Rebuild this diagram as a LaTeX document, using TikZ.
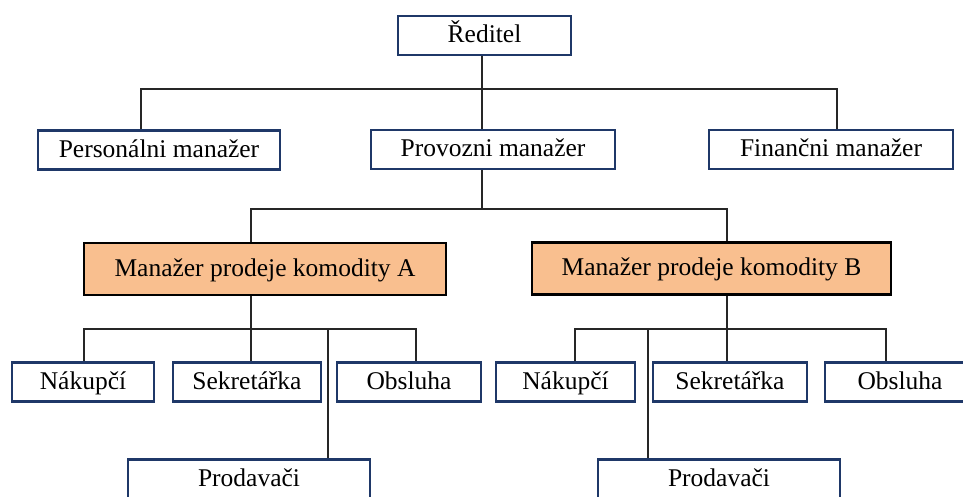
\documentclass[tikz,border=0pt]{standalone}
\usepackage{fontspec}
\setmainfont{Liberation Serif}
\definecolor{navy}{HTML}{1F3868}
\definecolor{peach}{HTML}{F9BF8F}
\begin{document}
\begin{tikzpicture}[x=1pt,y=-1pt,
  every node/.style={font=\fontsize{25.5}{30}\selectfont, inner sep=0pt,
    text height=18pt, text depth=4pt},
  plainbox/.style={draw=navy, line width=2.8pt, fill=white, minimum height=39pt},
  leadbox/.style={draw=black, line width=2.9pt, fill=peach, minimum height=52pt},
  link/.style={draw=black!85, line width=1.3pt}]
\clip (0,0) rectangle (963,496);
\fill[white] (0,0) rectangle (963,496);

% top levels
\node[plainbox, minimum width=173pt] (ceo) at (484.5,35.5) {Ředitel};
\node[plainbox, minimum width=242pt] (pers) at (159,150) {Personálni manažer};
\node[plainbox, minimum width=244pt] (prov) at (493,149.5) {Provozni manažer};
\node[plainbox, minimum width=244pt] (fin) at (831,149.5) {Finančni manažer};

% commodity managers
\node[leadbox, minimum width=362pt] (ma) at (265,269) {Manažer prodeje komodity A};
\node[leadbox, minimum width=359pt] (mb) at (711.5,268.5) {Manažer prodeje komodity B};

% staff under A
\node[plainbox, minimum width=142pt] (nakA) at (83,382) {Nákupčí};
\node[plainbox, minimum width=148pt] (sekA) at (247,382) {Sekretářka};
\node[plainbox, minimum width=144pt] (obsA) at (409,382) {Obsluha};
\node[plainbox, minimum width=242pt] (prodA) at (249,479) {Prodavači};

% staff under B
\node[plainbox, minimum width=139pt] (nakB) at (565.5,382) {Nákupčí};
\node[plainbox, minimum width=154pt] (sekB) at (730,382) {Sekretářka};
\node[plainbox, minimum width=150pt] (obsB) at (900,382) {Obsluha};
\node[plainbox, minimum width=242pt] (prodB) at (719,479) {Prodavači};

% bus junctions
\coordinate (bus1) at (482,89);
\coordinate (bus2) at (482,209);
\coordinate (bus3) at (251,329);
\coordinate (bus4) at (727,329);

% connectors
\draw[link] (ceo.south -| bus1) -- (prov.north -| bus1);
\draw[link] (pers.north -| 141,0) |- (bus1) -| (fin.north -| 837,0);

\draw[link] (prov.south -| bus2) -- (bus2);
\draw[link] (ma.north -| 251,0) |- (bus2) -| (mb.north -| 727,0);

\draw[link] (ma.south -| bus3) -- (sekA.north -| bus3);
\draw[link] (nakA.north -| 84,0) |- (bus3) -| (obsA.north -| 416,0);
\draw[link] (bus3 -| 328,0) -- (prodA.north -| 328,0);

\draw[link] (mb.south -| bus4) -- (sekB.north -| bus4);
\draw[link] (nakB.north -| 575,0) |- (bus4) -| (obsB.north -| 886,0);
\draw[link] (bus4 -| 648,0) -- (prodB.north -| 648,0);
\end{tikzpicture}
\end{document}
